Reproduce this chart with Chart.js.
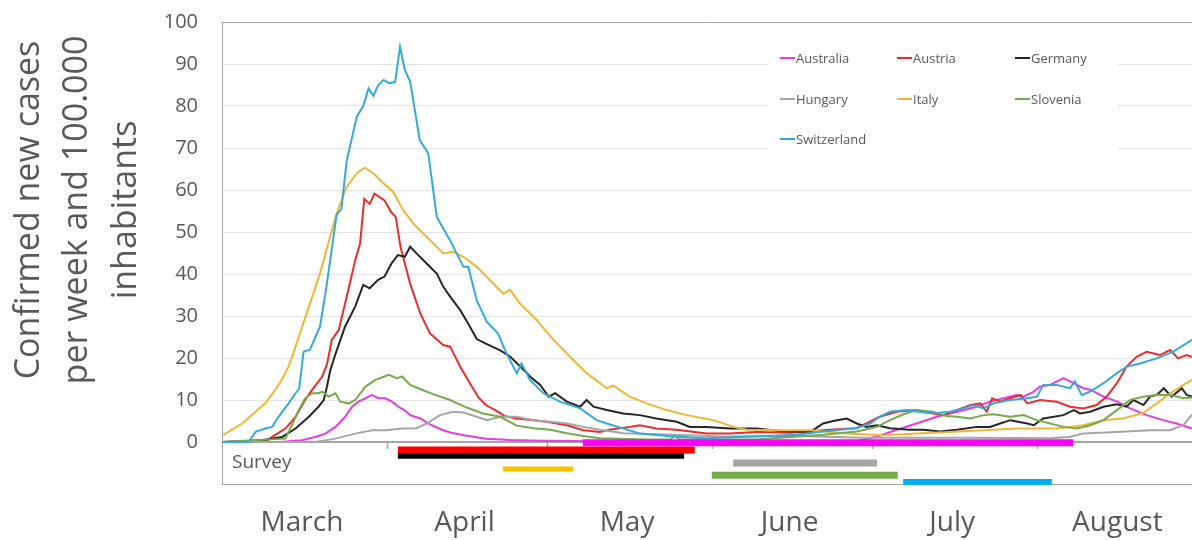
<!DOCTYPE html>
<html>
<head>
<meta charset="utf-8">
<script src="https://cdn.jsdelivr.net/npm/chart.js@4.4.1/dist/chart.umd.min.js"></script>
<style>
html,body{margin:0;padding:0;background:#fff;}
#wrap{width:1192px;height:540px;}
</style>
</head>
<body>
<div id="wrap"><canvas id="chart" width="1192" height="540"></canvas></div>
<script>

// day 0 = 1 March, values = confirmed new cases per week and 100.000 inhabitants
const countries = ["Australia","Austria","Germany","Hungary","Italy","Slovenia","Switzerland"];
const lineColors = ["#e33de3","#ee2b2b","#262626","#a6a6a6","#f2b634","#74ab4c","#33aade"];

const australia = [[0,0],[11,0],[15,0.4],[17.5,1.2],[19.4,2],[21.3,3.6],[23.1,6],[24.4,8.4],[25.6,9.6],[26.9,10.4],[28.1,11.2],[29.4,10.4],[30.6,10.4],[31.9,9.6],[33.1,8.4],[34.2,7.6],[35.3,6.4],[37.2,5.6],[39,4.2],[41.5,2.8],[43,2.2],[45.5,1.6],[49.5,0.8],[54,0.5],[60,0.3],[70,0.2],[90,0.1],[110,0.1],[119,0.2],[123,1.3],[126.6,2.9],[130.3,4.4],[134.1,6],[138,7.2],[141.6,8.4],[144.1,9.6],[146.6,10.4],[149.1,11.2],[150.4,10.8],[152.3,12],[153.5,13.2],[155.4,13.6],[157.9,15.2],[159.8,14],[161.6,12.8],[163,12.4],[165.4,10.8],[168,9.6],[170.4,8],[173.5,6.4],[176.6,5.2],[179.1,4.4],[182,3.2]];

const austria = [[0,0],[8,0],[10,1.7],[11.9,3.2],[13.8,6],[15.6,10],[16.9,12.4],[18.8,15.6],[19.7,18.5],[20.6,24.3],[21.9,26.7],[23.1,33],[25,43.3],[25.9,47.2],[26.7,57.9],[27.7,56.7],[28.6,59.1],[30.5,57.5],[31.7,54.8],[32.6,53.6],[33.5,46.4],[35.3,37.7],[37.2,30.6],[39,25.9],[41.5,23.1],[42.8,22.7],[44.7,17.9],[46.5,14],[48.2,10.5],[49.5,8.8],[51.5,7.4],[53,6.2],[55.3,5.6],[58.4,5.2],[60.9,4.8],[64.7,4],[67.8,2.8],[70.9,2.4],[73,3],[76.5,3.6],[78.4,4],[81.5,3.2],[85.3,2.9],[90.9,2],[95.3,2],[100.3,2.4],[106.5,2.2],[111,2.6],[114,2.9],[119,3.3],[121,4.5],[123.4,6],[126.6,7.2],[130.3,7.6],[132.8,6.9],[135.4,6.4],[137.9,7.6],[140.4,8.8],[142.3,9.2],[143.5,7.2],[144.5,10.4],[146,9.6],[147.9,10.4],[149.8,11.2],[151.1,9.2],[153.5,10],[156.6,9.6],[159.1,8.4],[161.6,8],[164.1,8.8],[166,10.8],[167.9,14],[169.7,17.9],[171.6,20.3],[173.5,21.5],[176,20.7],[177.9,21.9],[179.4,19.9],[181,20.7],[182,20.3]];

const germany = [[0,0],[7.5,0.4],[11.3,1.2],[13.8,3.2],[16.3,6],[18.1,8.4],[19.1,10],[19.7,13.2],[20.3,17],[21.3,21],[23.1,27.5],[25,32.3],[26.5,37.4],[27.7,36.6],[29.3,38.6],[30.5,39.4],[31.8,42.5],[33,44.5],[34.3,44.1],[35.3,46.5],[36.5,44.9],[38.4,42.5],[40.3,40.1],[41.5,37],[42.8,34.6],[44.7,31.4],[46.5,27.5],[47.8,24.5],[49.7,23.3],[52.2,21.8],[54.1,20.3],[56,17.9],[57.9,15.5],[59.7,13.6],[61.3,10.8],[62.5,11.6],[64.7,9.6],[67.2,8.4],[68.4,10],[69.7,8.4],[72.2,7.6],[75.3,6.8],[78.4,6.4],[81.5,5.6],[85.3,4.8],[87.8,3.6],[90.9,3.6],[95.3,3.2],[100.3,3.2],[104.7,2.6],[110.4,2.4],[112.8,4.4],[114.7,5],[117.2,5.6],[119.1,4.4],[120.9,3.6],[122.9,4],[125.3,3.3],[129,2.9],[131.6,2.9],[134.7,2.5],[137.9,2.9],[141.6,3.6],[144.1,3.6],[146,4.4],[147.9,5.2],[151.1,4.4],[152.3,4],[154.1,5.6],[157.9,6.4],[159.8,7.6],[161,6.8],[162.9,7.2],[165.4,8.4],[167.9,9],[169.7,8.4],[171,10],[172.9,8.8],[174.1,10.8],[175.4,11.2],[176.7,12.8],[178.2,10.8],[180.1,12.8],[181,11.2],[182,10.8]];

const hungary = [[0,0],[17.5,0],[21.3,0.8],[25,2],[28.1,2.8],[30.6,2.8],[33.8,3.2],[36.5,3.3],[38.4,4.4],[40.9,6.4],[43.4,7.2],[45.3,7],[47.8,6],[49.7,5.2],[52.2,6],[55.3,6],[58.4,5.2],[61.6,4.8],[64.7,4.4],[67.8,3.6],[70.9,2.9],[75.3,2.1],[84.7,1.7],[94.1,1.3],[106.5,1.5],[120,1],[140,1],[155.3,0.9],[159,1.2],[161.6,2],[167.9,2.4],[174.1,2.8],[177.9,2.8],[180.4,4],[182,6.5]];

const italy = [[0,1.5],[3.8,4.4],[6.3,7.2],[8.1,9.2],[10,12.4],[11.3,15],[12.5,18],[13.4,21.2],[15.9,30.7],[18.4,40.2],[20.3,48.9],[21.5,54.4],[23.4,60.8],[25.3,64],[26.8,65.3],[28.4,64],[30.3,61.6],[32.1,59.6],[34,55.2],[35.9,52],[37.8,49.6],[40.3,46.5],[41.5,44.9],[43.4,45.3],[45.3,44.1],[47.8,41.7],[49.7,39.3],[52.2,36],[52.8,35.3],[54,36.3],[55.9,33],[59,29.1],[62.2,24.3],[65.3,20.3],[68.4,16.4],[72.2,12.8],[73.4,13.4],[76.5,10.8],[79.7,9.2],[83.4,7.6],[87.2,6.4],[92.2,5.2],[96,3.6],[98.4,2.9],[104.7,2.8],[110.4,2.8],[117.2,2],[124,1.6],[130.3,2],[136.6,2.4],[142.8,2.8],[149.1,3.2],[156.6,3.2],[161.6,4],[165.3,5.2],[169.1,5.6],[172.8,6.9],[175.4,9.2],[177.9,11.6],[180.4,13.6],[182,14.8]];

const slovenia = [[0,0],[11.9,0.8],[13.1,4],[14.4,7.6],[15.6,10.4],[16.9,11.6],[18.1,11.6],[18.8,12],[20,10.8],[21.3,11.6],[22.2,9.6],[23.8,9.2],[25,10],[26.9,13.2],[28.8,14.8],[30.5,15.6],[31.3,16],[32.8,15.2],[33.8,15.6],[35.3,13.6],[37.4,12.5],[39.6,11.4],[42.8,10],[45.9,8.2],[49,6.8],[52.2,6],[55.3,3.9],[58.4,3.3],[61.6,2.9],[64.7,2.1],[68.4,1.3],[70.9,0.9],[80,0.6],[84.2,0.6],[84.9,1.6],[85.8,0.6],[100,0.6],[112.8,1.7],[119.1,2.5],[122.9,3.6],[125.3,5.2],[127.9,6.6],[130.3,7.6],[133.4,7.2],[135.9,6.2],[137.9,6],[140.4,5.6],[142.9,6.4],[144.8,6.6],[147.9,6],[150.4,6.4],[152.9,5.2],[155.4,4.4],[157.9,3.6],[160.4,3.2],[162.9,4],[165.4,5.2],[167.9,7.6],[170.4,10],[172.9,10.8],[175.4,11.2],[177.9,11.2],[180.4,10.4],[182,10.6]];

const switzerland = [[0,0],[5,0],[6.3,2.4],[8.1,3.2],[9.4,3.6],[10.6,6],[12.5,9.2],[13.8,11.6],[14.5,12.8],[15.3,21.5],[16.5,22],[18.4,27.5],[19.6,37],[21.5,54],[22.4,55.5],[23.4,67],[25.3,77.5],[26.5,80],[27.5,84.2],[28.4,82.4],[29.3,84.9],[30.3,86.2],[31.5,85.4],[32.5,85.8],[33.4,94.1],[34.3,88.6],[35.3,85.8],[37.1,71.9],[38.7,68.7],[40.3,53.6],[42.8,48],[45.3,41.7],[46.2,41.7],[47.8,33.7],[49.7,28.6],[51.8,25.8],[53.4,21],[55.3,16.4],[56.2,18.7],[57.8,14.8],[60.3,11.6],[63.4,9.6],[67.2,8],[70.3,5.2],[72.2,4.4],[75.3,3.2],[78.4,2],[84.7,1.3],[90.9,0.9],[100.3,1.3],[107.8,1.7],[112.8,2.5],[119.1,3.3],[121.6,4.4],[123.4,6],[125.3,7.2],[128.4,7.6],[131.6,7],[134.1,6.9],[136.6,7.2],[139.1,8],[141,8.8],[142.9,8],[144.8,9.2],[147.9,10],[151.1,10.4],[152.9,10.8],[154.1,13.6],[156.6,13.6],[159.1,12.8],[160,14.4],[161.3,11.2],[162.9,12],[165.4,14],[167.9,16.4],[169.7,17.9],[172.2,18.7],[175.4,19.9],[178.5,21.5],[182,24.3]];

const series = [australia, austria, germany, hungary, italy, slovenia, switzerland];

// survey periods per country (same order), drawn as bars under the zero line
const surveyFrom = [67.7, 33, 33, 95.9, 52.7, 91.9, 127.8];
const surveyTo = [159.7, 88.7, 86.7, 122.9, 65.9, 126.8, 155.7];
const surveyRow = [-0.2, -1.9, -3.3, -5.0, -6.4, -7.9, -9.5];
const surveyColors = ["#ff00ff","#ff0000","#000000","#a6a6a6","#ffc000","#70ad47","#00b0f0"];
const surveyWidths = [7, 7, 6, 7, 5, 7, 6];

const months = ["March","April","May","June","July","August"];
const monthMid = [15, 45.5, 76, 106.5, 137, 168];
const monthStart = [31, 61, 92, 122, 153];
const yTicks = [0,10,20,30,40,50,60,70,80,90,100];

const grey = "#595959";
const font = "'Open Sans', 'Noto Sans', sans-serif";

const datasets = [];

series.forEach((s, i) => {
datasets.push({
label: countries[i],
data: s.map(p => ({x: p[0], y: p[1]})),
borderColor: lineColors[i],
backgroundColor: lineColors[i],
borderWidth: 2,
pointRadius: 0,
tension: 0,
fill: false,
order: 10 - i
});
});

surveyFrom.forEach((f, i) => {
datasets.push({
label: "survey " + countries[i],
data: [{x: f, y: surveyRow[i]}, {x: surveyTo[i], y: surveyRow[i]}],
borderColor: surveyColors[i],
borderWidth: surveyWidths[i],
pointRadius: 0,
fill: false,
clip: false,
order: 1
});
});

const titlePlugin = {
id: "ytitle",
afterDraw(chart){
const ctx = chart.ctx;
ctx.save();
ctx.fillStyle = grey;
ctx.font = "34px " + font;
ctx.textAlign = "center";
ctx.textBaseline = "alphabetic";
const lines = ["Confirmed new cases", "per week and 100.000", "inhabitants"];
const base = [39, 87, 136];
lines.forEach((t, i) => {
ctx.save();
ctx.translate(base[i], 210);
ctx.rotate(-Math.PI / 2);
ctx.fillText(t, 0, 0);
ctx.restore();
});
ctx.restore();
}
};

const axisPlugin = {
id: "zeroaxis",
beforeDatasetsDraw(chart){
const ctx = chart.ctx;
const x = chart.scales.x;
const y = chart.scales.y;
const y0 = y.getPixelForValue(0);
ctx.save();
ctx.strokeStyle = "#a6a6a6";
ctx.lineWidth = 1.5;
monthStart.forEach(d => {
const px = Math.round(x.getPixelForValue(d)) + 0.5;
ctx.beginPath();
ctx.moveTo(px, y0);
ctx.lineTo(px, y0 + 7);
ctx.stroke();
});
ctx.fillStyle = grey;
ctx.font = "19px " + font;
ctx.textAlign = "left";
ctx.textBaseline = "middle";
ctx.fillText("Survey", chart.chartArea.left + 10, y.getPixelForValue(-4.8));

// legend box
ctx.fillStyle = "#fff";
ctx.fillRect(768, 38, 350, 120);
const colX = [780, 897, 1015];
const rowY = [58, 99, 139];
ctx.font = "13px " + font;
countries.forEach((c, i) => {
const lx = colX[i % 3];
const ly = rowY[Math.floor(i / 3)];
ctx.strokeStyle = lineColors[i];
ctx.lineWidth = 2;
ctx.beginPath();
ctx.moveTo(lx, ly);
ctx.lineTo(lx + 15, ly);
ctx.stroke();
ctx.fillStyle = grey;
ctx.fillText(c, lx + 16, ly + 1);
});
ctx.restore();
}
};

new Chart(document.getElementById("chart"), {
type: "line",
data: {datasets: datasets},
options: {
responsive: false,
animation: false,
devicePixelRatio: 1,
events: [],
layout: {padding: {top: 22, right: 0, bottom: 0, left: 0}},
plugins: {legend: {display: false}, tooltip: {enabled: false}},
scales: {
x: {
type: "linear",
min: 0,
max: 182,
afterBuildTicks: s => { s.ticks = monthMid.map(v => ({value: v})); },
afterFit: s => { s.height = 56; s.paddingLeft = 0; s.paddingRight = 0; },
grid: {display: false, drawTicks: false},
border: {display: true, color: "#a6a6a6", width: 1},
ticks: {
autoSkip: false,
maxRotation: 0,
padding: 22,
color: grey,
font: {family: font, size: 28},
callback: (v, i) => months[i]
}
},
y: {
min: -10,
max: 100,
afterBuildTicks: s => { s.ticks = [-10].concat(yTicks).map(v => ({value: v})); },
afterFit: s => { s.width = 222; s.paddingTop = 0; s.paddingBottom = 0; },
grid: {
drawTicks: false,
color: c => (c.tick.value === 0 || c.tick.value === 100 || c.tick.value === -10) ? "#a6a6a6" : "#e4e4e4",
lineWidth: c => c.tick.value === 0 ? 2 : 1
},
border: {display: true, color: "#a6a6a6", width: 1},
ticks: {
padding: 24,
color: grey,
font: {family: font, size: 20},
callback: v => v < 0 ? "" : v
}
}
}
},
plugins: [titlePlugin, axisPlugin]
});

</script>
</body>
</html>
